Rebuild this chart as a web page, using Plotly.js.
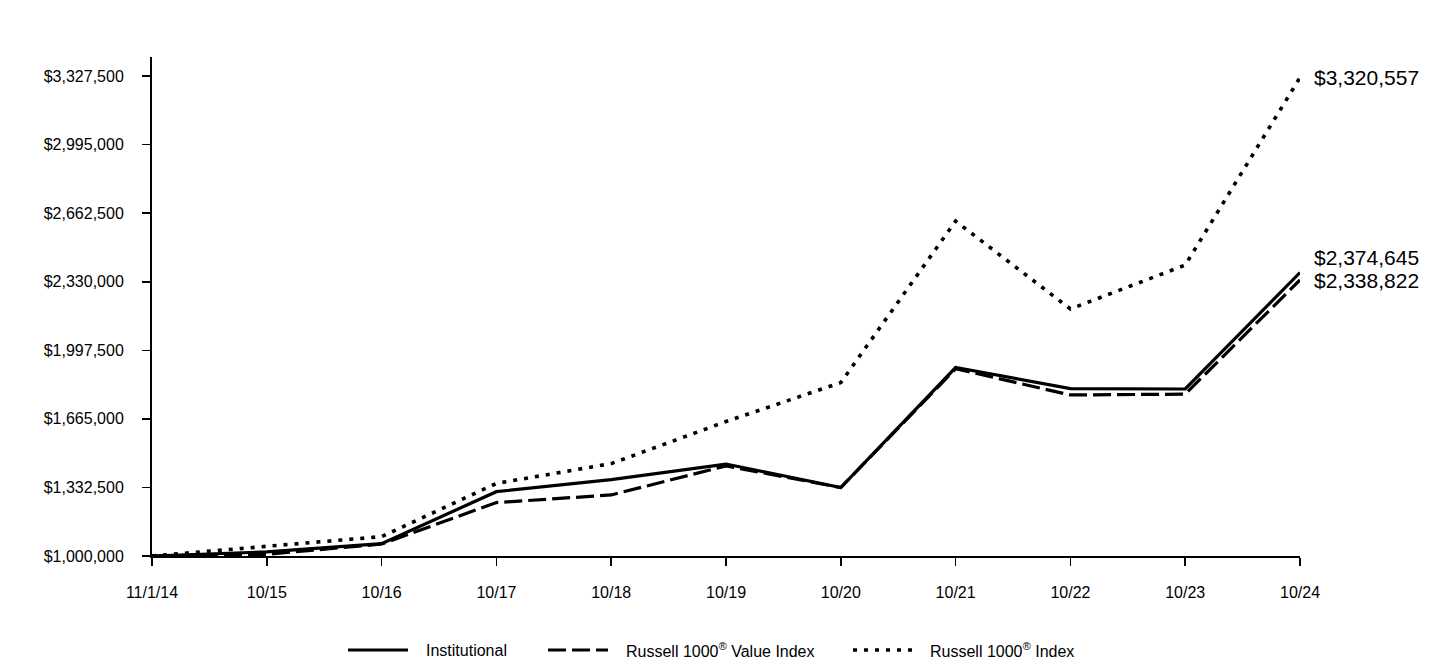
<!DOCTYPE html>
<html>
<head>
<meta charset="utf-8">
<script src="https://cdn.plot.ly/plotly-3.0.1.min.js"></script>
<style>html,body{margin:0;padding:0;background:#fff;}#chart{width:1440px;height:660px;}</style>
</head>
<body>
<div id="chart"></div>
<script>
const categories = ["11/1/14","10/15","10/16","10/17","10/18","10/19","10/20","10/21","10/22","10/23","10/24"];
const institutional = [1000000,1020000,1060000,1312000,1370000,1446000,1332000,1914000,1812000,1810000,2374645];
const valueIndex   = [1000000,1008000,1058000,1259000,1296000,1437000,1332000,1908000,1781000,1785000,2338822];
const russell1000  = [1000000,1045000,1094000,1352000,1448000,1652000,1841000,2624000,2198000,2411000,3320557];
const yTicks = [1000000,1332500,1665000,1997500,2330000,2662500,2995000,3327500];
const seriesNames = ["Institutional","Russell 1000<sup>®</sup> Value Index","Russell 1000<sup>®</sup> Index"];

const xIdx = categories.map((c,i)=>i);
const FONT = "Liberation Sans, Arial, sans-serif";
const styles = [
  {dash:"solid", width:3.2},
  {dash:"18px,6px", width:3.2},
  {dash:"4px,7px", width:3.6}
];
const allSeries = [institutional, valueIndex, russell1000];

const traces = allSeries.map((s,k)=>({
  x: xIdx, y: s, type:"scatter", mode:"lines", name: seriesNames[k],
  line:{color:"#000", width:styles[k].width, dash:styles[k].dash},
  cliponaxis:false, showlegend:false, hoverinfo:"skip"
}));

function fmt(v){ return "$" + v.toLocaleString("en-US"); }

const last = xIdx.length-1;
const labelShift = [15, -1, 0];
const annotations = allSeries.map((s,k)=>({
  x: last, y: s[last], xref:"x", yref:"y", text: fmt(s[last]),
  showarrow:false, xanchor:"left", yanchor:"middle", xshift:12, yshift:labelShift[k],
  font:{family:FONT, size:21, color:"#000"}
}));

// manual legend (paper coords from pixel positions)
const plotL=152, plotW=1148, plotB=556, plotH=499;
const px=(p)=>(p-plotL)/plotW, py=(p)=>(plotB-p)/plotH;
const legendItems = [
  {x0:348,x1:408,tx:424},
  {x0:548,x1:608,tx:624},
  {x0:853,x1:913,tx:928}
];
const shapes = [];
legendItems.forEach((it,k)=>{
  shapes.push({type:"line", xref:"paper", yref:"paper", x0:px(it.x0), x1:px(it.x1), y0:py(650), y1:py(650),
    line:{color:"#000", width:styles[k].width, dash:styles[k].dash}});
  annotations.push({xref:"paper", yref:"paper", x:px(it.tx), y:py(650), text:seriesNames[k],
    showarrow:false, xanchor:"left", yanchor:"middle", font:{family:FONT, size:16, color:"#000"}});
});

const layout = {
  width:1440, height:660,
  margin:{l:152, r:140, t:57, b:104},
  paper_bgcolor:"#fff", plot_bgcolor:"#fff",
  showlegend:false,
  font:{family:FONT, color:"#000"},
  xaxis:{
    range:[0,last], tickvals:xIdx, ticktext:categories, showgrid:false, zeroline:false,
    showline:true, linecolor:"#000", linewidth:2, ticks:"outside", ticklen:8, tickwidth:1.5, tickcolor:"#000",
    ticklabelstandoff:13, tickfont:{family:FONT, size:16, color:"#000"}, fixedrange:true
  },
  yaxis:{
    range:[1000000,3420000], tickvals:yTicks, ticktext:yTicks.map(fmt), showgrid:false, zeroline:false,
    showline:true, linecolor:"#000", linewidth:2, ticks:"outside", ticklen:8, tickwidth:1.5, tickcolor:"#000",
    ticklabelstandoff:15, tickfont:{family:FONT, size:16, color:"#000"}, fixedrange:true
  },
  shapes: shapes,
  annotations: annotations
};

Plotly.newPlot("chart", traces, layout, {displayModeBar:false, staticPlot:true});
</script>
</body>
</html>
